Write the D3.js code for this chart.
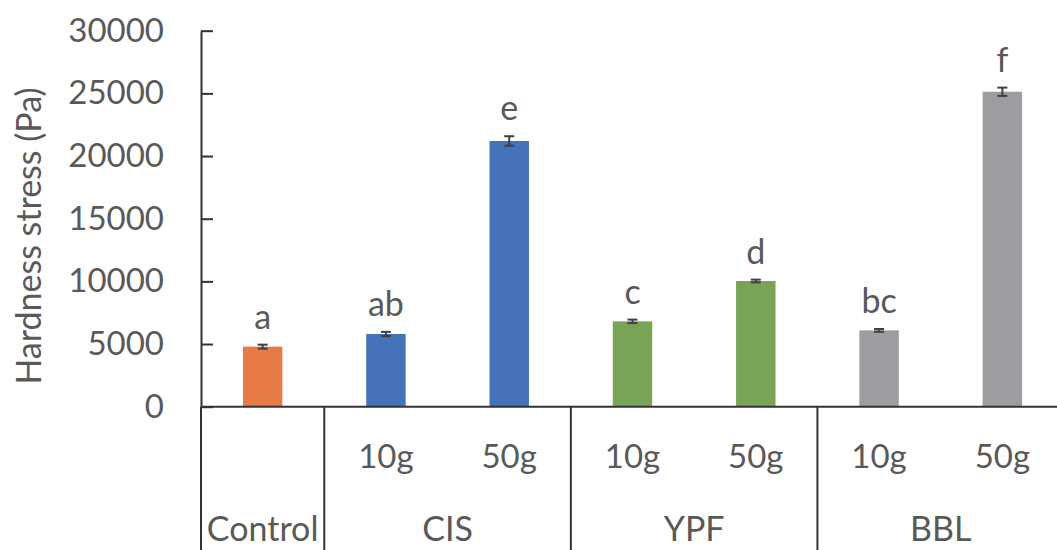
<html>
  <head>
    <style>
    body {
      margin: 0;
      background: #fff;
    }
    text {
      font-family: Lato, "Open Sans", sans-serif;
      fill: #595959;
    }
    </style>
  </head>
  <body>
    <script src="https://cdnjs.cloudflare.com/ajax/libs/d3/7.8.5/d3.min.js"></script>
    <script>
    var width = 1057,
      height = 550;

    // data
    var groups = ["Control", "CIS", "CIS", "YPF", "YPF", "BBL", "BBL"];
    var doses = ["", "10g", "50g", "10g", "50g", "10g", "50g"];
    var values = [4790, 5800, 21200, 6810, 10030, 6090, 25130];
    var errors = [160, 170, 380, 140, 110, 110, 330];
    var letters = ["a", "ab", "e", "c", "d", "bc", "f"];
    var yTicks = [0, 5000, 10000, 15000, 20000, 25000, 30000];
    var groupColors = {Control: "#e67b45", CIS: "#4672ba", YPF: "#7aa455", BBL: "#9d9da1"};

    var svg = d3.select("body").append("svg")
        .attr("width", width)
        .attr("height", height);

    var x = d3.scaleBand()
        .domain(d3.range(values.length))
        .range([201, 1064])
        .paddingInner(0.68)
        .paddingOuter(0.34);

    var y = d3.scaleLinear()
        .domain([0, 30000])
        .range([406.7, 30.7]);

    // y axis, ticks pointing inward
    var yAxis = svg.append("g")
        .attr("transform", "translate(201,0)")
        .call(d3.axisLeft(y).tickValues(yTicks).tickFormat(d3.format("d"))
          .tickSizeInner(-12).tickSizeOuter(0).tickPadding(37));
    yAxis.select(".domain").attr("stroke", "#333").attr("stroke-width", 2);
    yAxis.selectAll(".tick line").attr("stroke", "#333").attr("stroke-width", 2);
    yAxis.selectAll(".tick text")
        .attr("font-size", 33)
        .attr("font-family", "Lato, 'Open Sans', sans-serif")
        .attr("fill", "#595959");

    // y title
    svg.append("text")
        .attr("transform", "translate(41,236) rotate(-90)")
        .attr("text-anchor", "middle")
        .attr("font-size", 34)
        .text("Hardness stress (Pa)");

    // bars
    svg.selectAll(".bar")
      .data(values)
      .enter().append("rect")
        .attr("class", "bar")
        .attr("x", function(d, i){ return x(i); })
        .attr("y", function(d){ return y(d); })
        .attr("width", x.bandwidth())
        .attr("height", function(d){ return y(0) - y(d); })
        .attr("fill", function(d, i){ return groupColors[groups[i]]; });

    // error bars
    var eb = svg.selectAll(".err")
      .data(values)
      .enter().append("g")
        .attr("class", "err")
        .attr("stroke", "#404040")
        .attr("stroke-width", 2);
    eb.append("line")
        .attr("x1", function(d, i){ return x(i) + x.bandwidth() / 2; })
        .attr("x2", function(d, i){ return x(i) + x.bandwidth() / 2; })
        .attr("y1", function(d, i){ return y(d - errors[i]); })
        .attr("y2", function(d, i){ return y(d + errors[i]); });
    [-1, 1].forEach(function(s){
      eb.append("line")
          .attr("x1", function(d, i){ return x(i) + x.bandwidth() / 2 - 5; })
          .attr("x2", function(d, i){ return x(i) + x.bandwidth() / 2 + 5; })
          .attr("y1", function(d, i){ return y(d + s * errors[i]); })
          .attr("y2", function(d, i){ return y(d + s * errors[i]); });
    });

    // significance letters
    svg.selectAll(".letter")
      .data(values)
      .enter().append("text")
        .attr("class", "letter")
        .attr("x", function(d, i){ return x(i) + x.bandwidth() / 2; })
        .attr("y", function(d, i){ return y(d + errors[i]) - 16; })
        .attr("text-anchor", "middle")
        .attr("font-size", 34)
        .text(function(d, i){ return letters[i]; });

    // category axis: baseline + group dividers
    var x0 = x.range()[0], x1 = x.range()[1], step = x.step();
    svg.append("line")
        .attr("x1", x0).attr("x2", x1)
        .attr("y1", y(0)).attr("y2", y(0))
        .attr("stroke", "#333").attr("stroke-width", 2);

    var spans = [];
    groups.forEach(function(g, i){
      if (!spans.length || spans[spans.length - 1].name !== g) spans.push({name: g, start: i, end: i + 1});
      else spans[spans.length - 1].end = i + 1;
    });

    var bounds = spans.map(function(s){ return s.start; }).concat([groups.length]);
    svg.selectAll(".divider")
      .data(bounds)
      .enter().append("line")
        .attr("class", "divider")
        .attr("x1", function(d){ return x0 + d * step; })
        .attr("x2", function(d){ return x0 + d * step; })
        .attr("y1", y(0))
        .attr("y2", height)
        .attr("stroke", "#333")
        .attr("stroke-width", 2);

    // dose labels
    svg.selectAll(".dose")
      .data(doses)
      .enter().append("text")
        .attr("class", "dose")
        .attr("x", function(d, i){ return x(i) + x.bandwidth() / 2; })
        .attr("y", 468)
        .attr("text-anchor", "middle")
        .attr("font-size", 33)
        .text(function(d){ return d; });

    // group labels
    svg.selectAll(".group")
      .data(spans)
      .enter().append("text")
        .attr("class", "group")
        .attr("x", function(d){ return x0 + (d.start + d.end) / 2 * step; })
        .attr("y", 541)
        .attr("text-anchor", "middle")
        .attr("font-size", 34)
        .text(function(d){ return d.name; });
    </script>
  </body>
</html>
